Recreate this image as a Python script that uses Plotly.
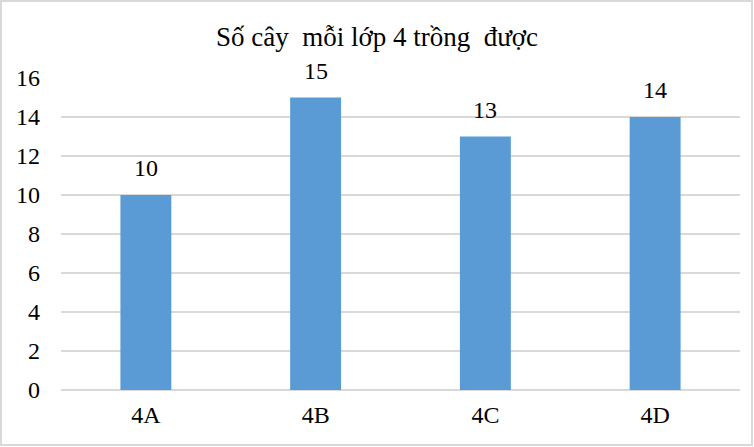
import plotly.graph_objects as go

# Data
classes = ["4A", "4B", "4C", "4D"]
trees = [10, 15, 13, 14]
y_ticks = [0, 2, 4, 6, 8, 10, 12, 14, 16]

W, H = 754, 447
ml, mr, mt, mb = 61, 14, 78, 57
pw, ph = W - ml - mr, H - mt - mb
FONT = "Liberation Serif"

fig = go.Figure(go.Bar(
    x=classes, y=trees,
    marker=dict(color="#5B9BD5", line=dict(width=0)),
    width=0.3,
))

# value labels above the bars
for c, v in zip(classes, trees):
    fig.add_annotation(x=c, y=v, text=str(v), showarrow=False,
                       yanchor="bottom", yshift=12,
                       font=dict(family=FONT, size=24, color="#000000"))

fig.update_layout(
    width=W, height=H,
    margin=dict(l=ml, r=mr, t=mt, b=mb),
    paper_bgcolor="white",
    plot_bgcolor="white",
    font=dict(family=FONT, size=24, color="#000000"),
    title=dict(text="Số cây\u00a0 mỗi lớp 4 trồng\u00a0 được", x=0.5, xanchor="center",
               y=1 - 37 / H, yanchor="middle", font=dict(family=FONT, size=27)),
    showlegend=False,
)
fig.update_xaxes(showgrid=False, showline=False, ticks="", ticklabelstandoff=8,
                 tickfont=dict(family=FONT, size=24))
fig.update_yaxes(range=[0, 16], tickvals=y_ticks, showgrid=True, gridcolor="#d9d9d9",
                 gridwidth=1.5, zeroline=True, zerolinecolor="#d9d9d9", zerolinewidth=1.5,
                 showline=False, ticks="", ticklabelstandoff=20,
                 tickfont=dict(family=FONT, size=24))

# outer chart border
fig.add_shape(type="rect", xref="paper", yref="paper",
              x0=(1 - ml) / pw, x1=(W - 2 - ml) / pw,
              y0=-(H - 2 - (H - mb)) / ph, y1=(H - mb - 1) / ph,
              line=dict(color="#d9d9d9", width=2), fillcolor="rgba(0,0,0,0)", layer="above")

fig.write_html("out.html", config={"displayModeBar": False},
               post_script="document.body.style.margin='0';")
